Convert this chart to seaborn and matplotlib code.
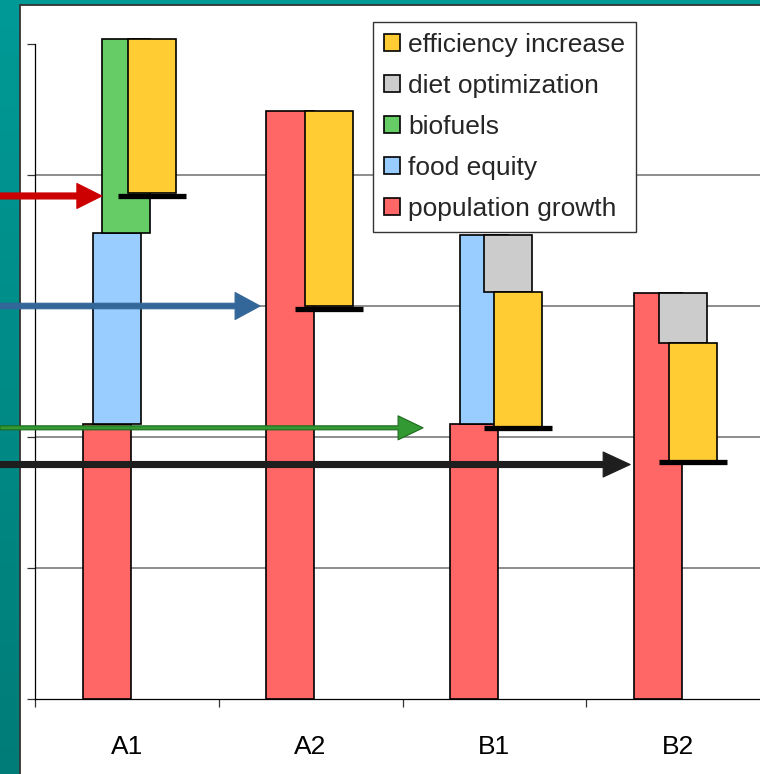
import numpy as np
import seaborn as sns
import matplotlib
matplotlib.use('Agg')
import matplotlib.pyplot as plt
from matplotlib.patches import Patch, Rectangle
from matplotlib.colors import LinearSegmentedColormap

# data (axis units, no labels on y)
scenarios = ['A1', 'A2', 'B1', 'B2']
population_growth = [2.10, 4.49, 2.10, 3.10]
food_equity = [1.46, 0.0, 1.44, 0.0]
biofuels = [1.48, 0.0, 0.0, 0.0]
diet_optimization = [0.0, 0.0, -0.43, -0.38]
efficiency_increase = [-1.18, -1.49, -1.03, -0.90]
net_result = [3.84, 2.98, 2.07, 1.81]
arrow_level = [3.84, 3.00, 2.07, 1.79]

components = ['population growth', 'food equity', 'biofuels',
              'diet optimization', 'efficiency increase']
values = [population_growth, food_equity, biofuels,
          diet_optimization, efficiency_increase]
colors = ['#FF6666', '#99CCFF', '#66CC66', '#CCCCCC', '#FFCC33']

# horizontal shift of every segment inside its category
offsets = [[-0.109, -0.114, -0.109, -0.11],
           [-0.054, -0.054, -0.054, -0.054],
           [-0.005, -0.005, -0.005, -0.005],
           [0.076, 0.076, 0.076, 0.024],
           [0.136, 0.098, 0.131, 0.082]]
bar_w = 0.261

sns.set_theme(style='white')
plt.rcParams['font.family'] = ['Liberation Sans', 'DejaVu Sans']

fig = plt.figure(figsize=(7.6, 7.74), dpi=100)

# teal slide background + white panel
bg = fig.add_axes([0, 0, 1, 1], zorder=-10)
teal = LinearSegmentedColormap.from_list('teal', ['#007C78', '#009A96'])
bg.imshow(np.linspace(0, 1, 256).reshape(-1, 1), cmap=teal, origin='lower',
          aspect='auto', extent=[0, 1, 0, 1])
bg.add_patch(Rectangle((20 / 760, -0.01), 1.0, 1 + 0.01 - 5 / 774,
                       transform=bg.transAxes, fc='white', ec='#333333', lw=1.3))
bg.set_xlim(0, 1)
bg.set_ylim(0, 1)
bg.axis('off')

ax = fig.add_axes([35 / 760, 75 / 774, 735 / 760, 655 / 774])
ax.set_facecolor('none')
ax.set_xlim(-0.5, 3.5)
ax.set_ylim(0, 5)

for y in range(1, 5):
    ax.axhline(y, color='#7a7a7a', lw=1.2, zorder=0)

# waterfall segments
cum = np.zeros(len(scenarios))
for i, comp in enumerate(components):
    for j in range(len(scenarios)):
        v = values[i][j]
        if v == 0:
            continue
        ax.bar(j + offsets[i][j], v, bottom=cum[j], width=bar_w,
               color=colors[i], edgecolor='black', linewidth=1.2,
               zorder=2 + i, clip_on=False)
        cum[j] += v

# net result markers
xc = np.arange(len(scenarios)) + np.array(offsets[4])
ax.hlines(net_result, xc - 0.185, xc + 0.185, color='black', lw=3.8, zorder=10)

# arrows from the left border to each scenario
arrow_tip = [-0.136, -0.275, -0.388, -0.261]
arrow_fc = ['#CC0000', '#336699', '#339933', '#1E1E1E']
arrow_ec = ['#CC0000', '#336699', '#1F6B1F', '#1E1E1E']
arrow_style = ['simple,head_length=1.0,head_width=1.0,tail_width=0.24',
               'simple,head_length=1.0,head_width=1.08,tail_width=0.22',
               'simple,head_length=1.0,head_width=0.96,tail_width=0.16',
               'simple,head_length=1.08,head_width=1.0,tail_width=0.24']
for j in range(len(scenarios)):
    ax.annotate('', xy=(j + arrow_tip[j], arrow_level[j]),
                xytext=(0, arrow_level[j]), xycoords='data',
                textcoords=('figure fraction', 'data'),
                arrowprops=dict(arrowstyle=arrow_style[j], mutation_scale=18,
                                fc=arrow_fc[j], ec=arrow_ec[j], lw=0.8,
                                shrinkA=0, shrinkB=0),
                annotation_clip=False, zorder=12)

# axes, ticks
ax.set_yticks(range(6))
ax.set_yticklabels([])
ax.set_xticks([-0.5, 0.5, 1.5, 2.5, 3.5])
ax.set_xticklabels([])
ax.set_xticks(range(len(scenarios)), minor=True)
ax.set_xticklabels(scenarios, minor=True, fontsize=19)
ax.tick_params(axis='both', which='major', direction='out', length=5.8,
               width=0.9, color='#333333', left=True, bottom=True)
ax.tick_params(axis='x', which='minor', length=0, pad=26, labelcolor='black')
for side in ['top', 'right']:
    ax.spines[side].set_visible(False)
for side in ['left', 'bottom']:
    ax.spines[side].set_color('black')
    ax.spines[side].set_linewidth(0.9)

handles = [Patch(facecolor=colors[i], edgecolor='black', linewidth=1.2,
                 label=components[i]) for i in range(4, -1, -1)]
leg = ax.legend(handles=handles, loc='upper left',
                bbox_to_anchor=(373 / 760, 1 - 22 / 774),
                bbox_transform=fig.transFigure, borderaxespad=0,
                fontsize=19, frameon=True, fancybox=False, framealpha=1,
                edgecolor='#333333', labelspacing=0.65, handlelength=0.62,
                handleheight=0.62, handletextpad=0.32, borderpad=0.4)
leg.get_frame().set_linewidth(1.0)
leg.set_zorder(20)

fig.savefig('out.png', dpi=100)
